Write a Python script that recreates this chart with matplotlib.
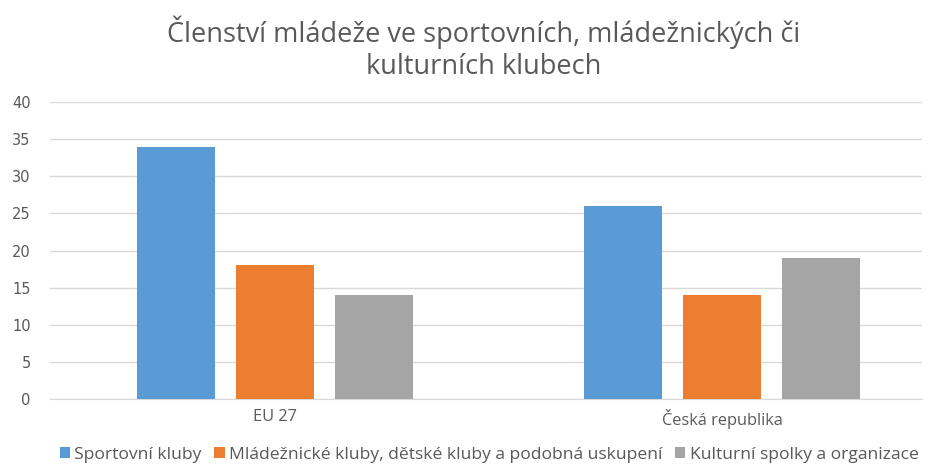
import numpy as np
import matplotlib.pyplot as plt

categories = ['EU 27', 'Česká republika']
series = ['Sportovní kluby', 'Mládežnické kluby, dětské kluby a podobná uskupení', 'Kulturní spolky a organizace']
values = [[34, 26], [18, 14], [14, 19]]
colors = ['#5b9bd5', '#ed7d31', '#a5a5a5']

fig = plt.figure(figsize=(9.35, 4.68), dpi=100)
ax = fig.add_axes([0.0535, 0.147, 0.9325, 0.635])

x = np.arange(len(categories))
w = 0.1745
step = 0.2215
for i, (name, vals) in enumerate(zip(series, values)):
    ax.bar(x + (i - 1) * step, vals, width=w, color=colors[i], label=name, zorder=3)

ax.set_xlim(-0.503, 1.447)
ax.set_ylim(0, 40)
ax.set_yticks(range(0, 41, 5))
ax.set_xticks(x)
ax.set_xticklabels(categories, family='Open Sans', fontsize=11.8)
ax.grid(axis='y', color='#d9d9d9', linewidth=1, zorder=0)
for s in ['top', 'right', 'left']:
    ax.spines[s].set_visible(False)
ax.spines['bottom'].set_color('#d9d9d9')
ax.tick_params(length=0, colors='#595959')
ax.tick_params(axis='y', pad=14, labelsize=10.5)
ax.tick_params(axis='x', pad=7)

fig.text(0.517, 0.897, 'Členství mládeže ve sportovních, mládežnických či\nkulturních klubech',
         ha='center', va='center', fontsize=19.5, color='#595959', family='Open Sans',
         linespacing=1.2)

fig.legend(loc='lower center', bbox_to_anchor=(0.523, -0.022), ncol=3, frameon=False,
           prop={'family': 'Open Sans', 'size': 12.6}, handlelength=0.6, handleheight=0.6,
           handletextpad=0.25, columnspacing=0.7, labelcolor='#595959')

fig.savefig('out.png', dpi=100)
